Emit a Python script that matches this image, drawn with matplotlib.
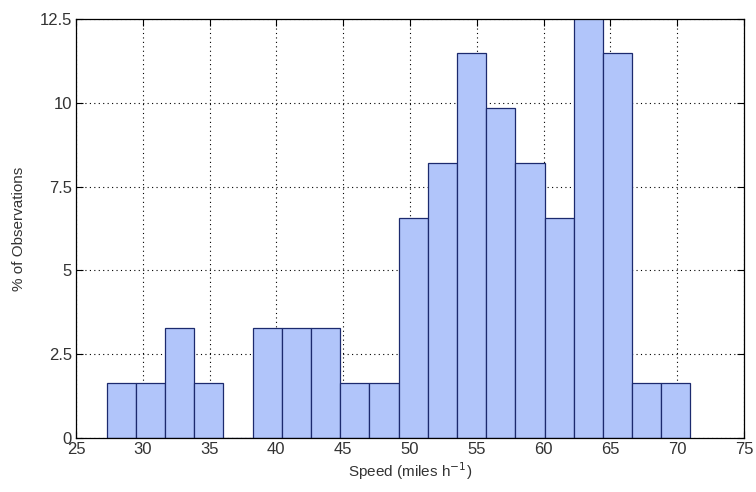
import numpy as np
import matplotlib.pyplot as plt

# histogram of speeds, 20 bins between min and max
speed_min = 27.3
speed_max = 71.0
pct_obs = [1.64, 1.64, 3.28, 1.64, 0.0, 3.28, 3.28, 3.28, 1.64, 1.64,
           6.56, 8.20, 11.48, 9.84, 8.20, 6.56, 13.11, 11.48, 1.64, 1.64]
x_ticks = [25, 30, 35, 40, 45, 50, 55, 60, 65, 70, 75]
y_ticks = [0, 2.5, 5, 7.5, 10, 12.5]
y_tick_labels = ["0", "2.5", "5", "7.5", "10", "12.5"]

plt.rcParams['font.family'] = ['Liberation Sans', 'DejaVu Sans']

edges = np.linspace(speed_min, speed_max, len(pct_obs) + 1)
widths = np.diff(edges)

fig = plt.figure(figsize=(7.56, 4.92), dpi=100)
ax = fig.add_axes([0.1005, 0.1098, 0.8835, 0.8516])

ax.bar(edges[:-1], pct_obs, width=widths, align='edge',
       facecolor='#b1c5fa', edgecolor='#1c2a6e', linewidth=0.9, zorder=2)

ax.set_xlim(25, 75)
ax.set_ylim(0, 12.5)
ax.set_xticks(x_ticks)
ax.set_yticks(y_ticks)
ax.set_yticklabels(y_tick_labels)
ax.grid(True, linestyle=(0, (1, 3)), color='black', linewidth=0.8, zorder=1)
ax.set_axisbelow(True)

ax.tick_params(direction='in', top=True, right=True, length=5, width=0.8,
               labelsize=12, labelcolor='#333333', pad=3)
for s in ax.spines.values():
    s.set_linewidth(0.9)
    s.set_zorder(3)

ax.set_xlabel("Speed (miles h$^{-1}$)", fontsize=11, color='#333333', labelpad=2)
ax.set_ylabel("% of Observations", fontsize=11, color='#333333', labelpad=10)

fig.savefig("out.png", dpi=100)
